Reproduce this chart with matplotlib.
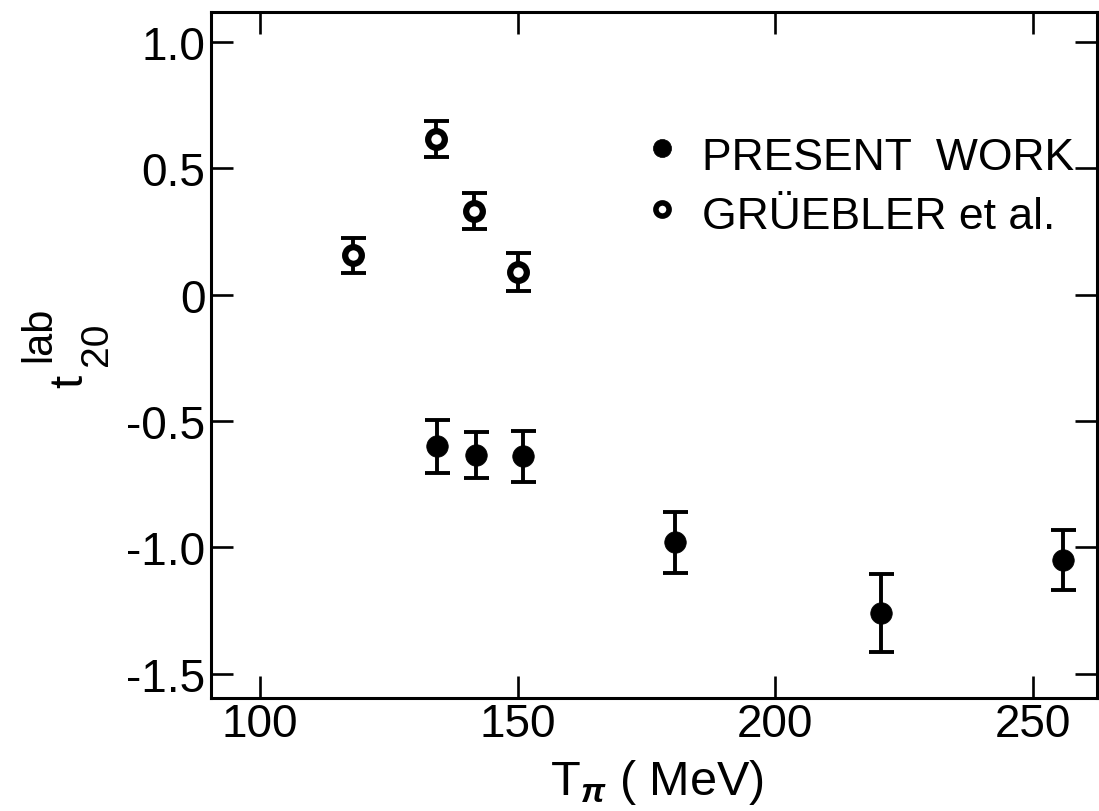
import matplotlib
matplotlib.use("Agg")
import matplotlib.pyplot as plt

plt.rcParams["font.family"] = ["Liberation Sans", "DejaVu Sans"]
plt.rcParams["axes.unicode_minus"] = False
plt.rcParams["mathtext.fontset"] = "custom"
plt.rcParams["mathtext.rm"] = "Liberation Sans"
plt.rcParams["mathtext.it"] = "Liberation Sans:italic:bold"

# Present work: pion kinetic energy (MeV), t20 (lab) and uncertainty
present_T = [134.4, 142.0, 151.0, 180.6, 220.5, 255.9]
present_t20 = [-0.60, -0.635, -0.64, -0.98, -1.26, -1.05]
present_err = [0.105, 0.09, 0.10, 0.12, 0.155, 0.12]

# Gruebler et al.
grueb_T = [118.1, 134.2, 141.5, 150.1]
grueb_t20 = [0.155, 0.615, 0.33, 0.09]
grueb_err = [0.07, 0.07, 0.07, 0.075]

x_ticks = [100, 150, 200, 250]
x_ticklabels = ["100", "150", "200", "250"]
y_ticks = [1.0, 0.5, 0.0, -0.5, -1.0, -1.5]
y_ticklabels = ["1.0", "0.5", "0", "-0.5", "-1.0", "-1.5"]

legend_labels = ["PRESENT  WORK", "GRÜEBLER et al."]

W, H = 1099, 812
fig = plt.figure(figsize=(W / 100, H / 100), dpi=100)
ax = fig.add_axes([211 / W, 113 / H, 886 / W, 686 / H])

bar_style = dict(fmt="none", ecolor="black", elinewidth=2.8, capsize=9,
                 capthick=2.8, zorder=2)
ax.errorbar(present_T, present_t20, yerr=present_err, **bar_style)
ax.errorbar(grueb_T, grueb_t20, yerr=grueb_err, **bar_style)

ax.plot(present_T, present_t20, "o", ls="none", ms=15.5, mfc="black",
        mec="black", mew=0.5, zorder=3)
ax.plot(grueb_T, grueb_t20, "o", ls="none", ms=12, mfc="white",
        mec="black", mew=4.5, zorder=3)

ax.set_xlim(90.5, 262.4)
ax.set_ylim(-1.595, 1.117)
ax.set_xticks(x_ticks)
ax.set_xticklabels(x_ticklabels)
ax.set_yticks(y_ticks)
ax.set_yticklabels(y_ticklabels)

for side in ax.spines.values():
    side.set_linewidth(2.2)

ax.tick_params(axis="both", which="major", direction="in", length=16, width=1.9,
               top=True, right=True, labelsize=33, colors="black")
ax.tick_params(axis="x", pad=3)
ax.tick_params(axis="y", pad=4)

ax.set_xlabel(r"$\mathregular{T}_{\mathit{\pi}}$ ( MeV)", fontsize=35, va="baseline")
ax.xaxis.set_label_coords(0.503, -0.140)

# Vertical axis title: t with subscript 20 and superscript lab, set as rotated pieces
def px(x, y):
    return x / W, 1 - y / H

rot = dict(rotation=90, rotation_mode="anchor", ha="center", va="baseline")
fig.text(*px(82, 381), "t", fontsize=34, **rot)
fig.text(*px(107, 344), "20", fontsize=28, **rot)
fig.text(*px(50, 334), "lab", fontsize=30, **rot)

# Key, drawn in axes coordinates
ax.plot([0.509], [0.802], "o", ms=13, mfc="black", mec="black", mew=0.5,
        transform=ax.transAxes, clip_on=False)
ax.plot([0.509], [0.713], "o", ms=9.5, mfc="white", mec="black", mew=4,
        transform=ax.transAxes, clip_on=False)
ax.text(0.554, 0.771, legend_labels[0], transform=ax.transAxes,
        fontsize=32, va="baseline", ha="left")
ax.text(0.554, 0.685, legend_labels[1], transform=ax.transAxes,
        fontsize=32, va="baseline", ha="left")

fig.savefig("out.png", dpi=100, facecolor="white")
